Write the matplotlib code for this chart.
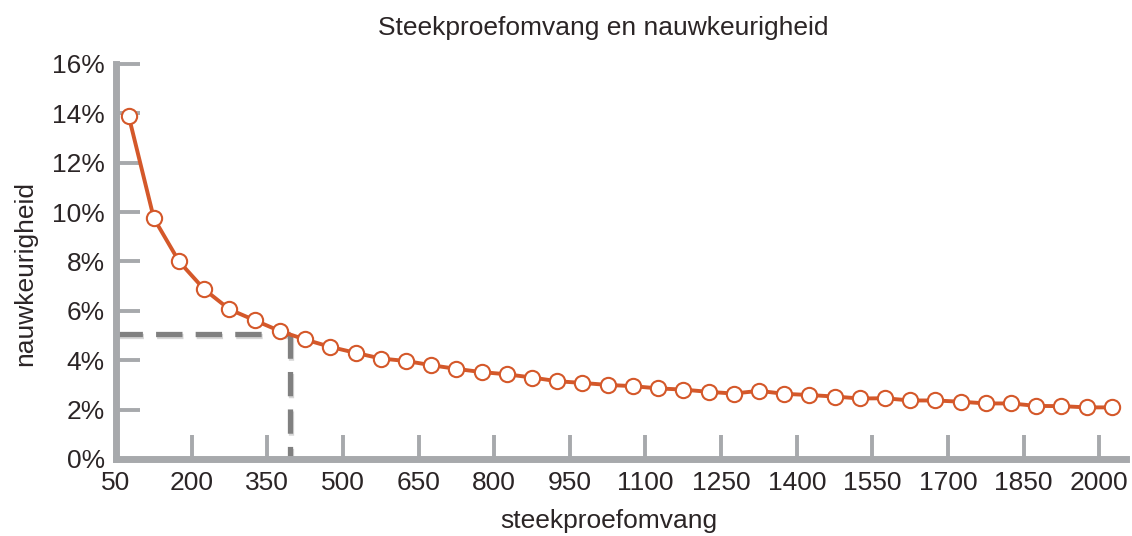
import matplotlib.pyplot as plt
from matplotlib import patheffects as pe

# sample size categories (one point each)
sizes = [50, 100, 150, 200, 250, 300, 350, 400, 450, 500,
         550, 600, 650, 700, 750, 800, 850, 900, 950, 1000,
         1050, 1100, 1150, 1200, 1250, 1300, 1350, 1400, 1450, 1500,
         1550, 1600, 1650, 1700, 1750, 1800, 1850, 1900, 1950, 2000]
# precision in percent
precision = [13.9, 9.75, 8.0, 6.87, 6.06, 5.62, 5.18, 4.84, 4.54, 4.3,
             4.07, 3.97, 3.8, 3.65, 3.52, 3.43, 3.3, 3.15, 3.08, 3.0,
             2.95, 2.86, 2.81, 2.72, 2.65, 2.76, 2.64, 2.59, 2.53, 2.45,
             2.46, 2.37, 2.37, 2.32, 2.25, 2.25, 2.15, 2.14, 2.09, 2.09]
yticks = [0, 2, 4, 6, 8, 10, 12, 14, 16]
ref_idx = 6.4      # dashed guide, between 350 and 400
ref_pct = 5.05

plt.rcParams['font.family'] = ['Liberation Sans Narrow', 'Liberation Sans', 'DejaVu Sans']
grey = '#a7a9ac'
txt = '#2b2526'
orange = '#d4582a'

fig = plt.figure(figsize=(11.32, 5.36), dpi=100)
ax = fig.add_axes([0.1025, 0.1437, 0.892, 0.7369])

idx = list(range(len(sizes)))
shadow = [pe.SimpleLineShadow(offset=(1, -1), shadow_color='#999999', alpha=0.4), pe.Normal()]
ax.plot([-0.5, ref_idx], [ref_pct, ref_pct], color='#808080', lw=3.8,
        linestyle=(0, (5, 2.5)), path_effects=shadow, zorder=2)
ax.plot([ref_idx, ref_idx], [ref_pct, 0], color='#808080', lw=3.8,
        linestyle=(0, (4.6, 2.5)), path_effects=shadow, zorder=2)

ax.plot(idx, precision, color=orange, lw=2.8, marker='o', markersize=11,
        markerfacecolor='white', markeredgecolor=orange, markeredgewidth=1.5, zorder=3)

ax.set_xlim(-0.5, 39.55)
ax.set_ylim(0, 16)
ax.set_xticks([i - 0.5 for i in range(0, len(sizes), 3)])
ax.set_xticklabels([str(sizes[i]) for i in range(0, len(sizes), 3)])
ax.set_yticks(yticks)
ax.set_yticklabels([f'{v}%' for v in yticks])

for s in ['top', 'right']:
    ax.spines[s].set_visible(False)
for s in ['left', 'bottom']:
    ax.spines[s].set_color(grey)
    ax.spines[s].set_linewidth(5)
    ax.spines[s].set_capstyle('projecting')
ax.tick_params(axis='both', direction='in', length=17, width=2.8, color=grey,
               labelsize=19, labelcolor=txt)
ax.tick_params(axis='x', pad=9)
ax.tick_params(axis='y', pad=8)

fig.text(0.533, 0.948, 'Steekproefomvang en nauwkeurigheid', ha='center', va='center',
         fontsize=19, color=txt)
fig.text(0.538, 0.028, 'steekproefomvang', ha='center', va='center', fontsize=19, color=txt)
fig.text(0.022, 0.49, 'nauwkeurigheid', ha='center', va='center', rotation=90,
         fontsize=19, color=txt)

fig.savefig('out.png', dpi=100)
